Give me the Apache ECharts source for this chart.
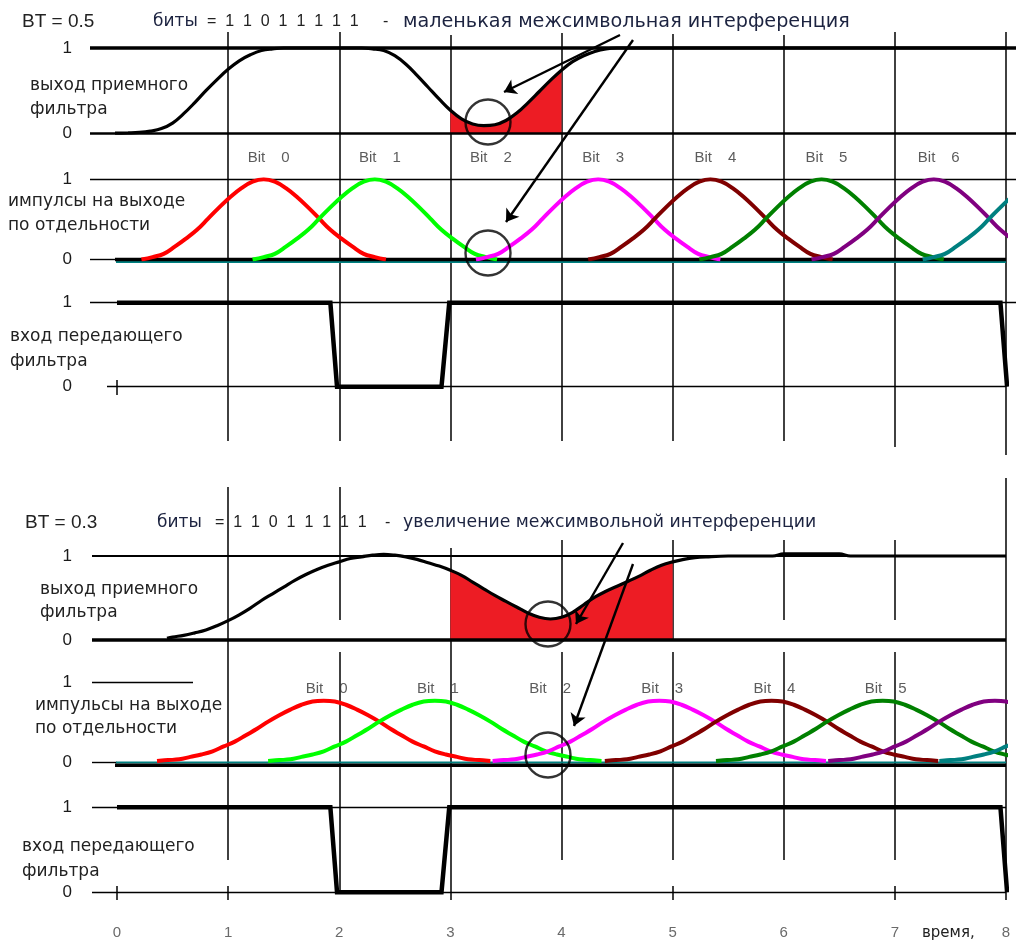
<!DOCTYPE html>
<html><head><meta charset="utf-8">
<script src="https://cdn.jsdelivr.net/npm/echarts@6/dist/echarts.min.js"></script>
<style>html,body{margin:0;padding:0;background:#fff}#c{width:1018px;height:941px}</style>
</head><body><div id="c"></div>
<script>
// ================= DATA =================
const bits = [1, 1, 0, 1, 1, 1, 1, 1];
const pulseColors = ['#ff0000', '#00ff00', '#000000', '#ff00ff', '#800000', '#008000', '#800080', '#008080'];
const xTickLabels = ['0', '1', '2', '3', '4', '5', '6', '7', '8'];
const bitLabels05 = ['0', '1', '2', '3', '4', '5', '6'];
const bitLabels03 = ['0', '1', '2', '3', '4', '5'];

// BT = 0.5 : receive filter output
const rxTime05 = [-0.09, 0.1, 0.2, 0.3, 0.4, 0.5, 0.6, 0.7, 0.8, 0.9, 1.0, 1.1, 1.2, 1.3, 1.4, 1.5, 1.8, 2.2, 2.3, 2.4, 2.5, 2.6, 2.7, 2.8, 2.9, 3.0, 3.1, 3.2, 3.3, 3.4, 3.5, 3.6, 3.7, 3.8, 3.9, 4.0, 4.1, 4.2, 4.3, 4.4, 4.5, 5.0, 6.0, 7.0, 8.0];
const rxValue05 = [0, 0.005, 0.01, 0.025, 0.055, 0.12, 0.23, 0.36, 0.5, 0.63, 0.75, 0.85, 0.92, 0.97, 0.99, 1.0, 1.0, 1.0, 0.99, 0.97, 0.91, 0.81, 0.68, 0.54, 0.4, 0.27, 0.17, 0.11, 0.09, 0.1, 0.15, 0.24, 0.36, 0.49, 0.62, 0.74, 0.84, 0.91, 0.96, 0.99, 1.0, 1.0, 1.0, 1.0, 1.0];
const fillRange05 = [3, 4];

// BT = 0.5 : single pulses
const pulseOffset05 = [-1.1, -1.0, -0.9, -0.8, -0.7, -0.6, -0.5, -0.4, -0.3, -0.2, -0.1, 0, 0.1, 0.2, 0.3, 0.4, 0.5, 0.6, 0.7, 0.8, 0.9, 1.0, 1.1];
const pulseShape05 = [0, 0.03, 0.07, 0.16, 0.26, 0.37, 0.51, 0.65, 0.78, 0.89, 0.97, 1.0, 0.97, 0.89, 0.78, 0.65, 0.51, 0.37, 0.26, 0.16, 0.07, 0.03, 0];
const pulseCenter05 = [1.32, 2.32, 3.32, 4.33, 5.34, 6.34, 7.35, 8.35];

// BT = 0.3 : receive filter output
const rxTime03 = [0.45, 0.5, 0.6, 0.7, 0.8, 0.9, 1.0, 1.1, 1.2, 1.3, 1.4, 1.5, 1.6, 1.7, 1.8, 1.9, 2.0, 2.1, 2.2, 2.3, 2.4, 2.5, 2.6, 2.7, 2.8, 2.9, 3.0, 3.1, 3.2, 3.3, 3.4, 3.5, 3.6, 3.7, 3.8, 3.9, 4.0, 4.1, 4.2, 4.3, 4.4, 4.5, 4.6, 4.7, 4.8, 4.9, 5.0, 5.1, 5.2, 5.3, 5.5, 5.9, 6.0, 6.5, 6.6, 7.0, 8.0];
const rxValue03 = [0.02, 0.035, 0.055, 0.085, 0.12, 0.17, 0.23, 0.3, 0.38, 0.47, 0.55, 0.63, 0.71, 0.78, 0.84, 0.89, 0.93, 0.97, 0.99, 1.01, 1.02, 1.01, 0.99, 0.96, 0.92, 0.88, 0.83, 0.77, 0.69, 0.61, 0.53, 0.46, 0.39, 0.32, 0.27, 0.25, 0.27, 0.33, 0.42, 0.51, 0.58, 0.64, 0.7, 0.76, 0.83, 0.89, 0.93, 0.96, 0.98, 0.99, 1.0, 1.0, 1.025, 1.025, 1.0, 1.0, 1.0];
const fillRange03 = [3, 5];

// BT = 0.3 : single pulses
const pulseOffset03 = [-1.5, -1.4, -1.3, -1.2, -1.1, -1.0, -0.9, -0.8, -0.7, -0.6, -0.5, -0.4, -0.3, -0.2, -0.1, 0, 0.1, 0.2, 0.3, 0.4, 0.5, 0.6, 0.7, 0.8, 0.9, 1.0, 1.1, 1.2, 1.3, 1.4, 1.5];
const pulseShape03 = [0.02, 0.03, 0.04, 0.07, 0.1, 0.14, 0.2, 0.26, 0.34, 0.42, 0.51, 0.59, 0.66, 0.72, 0.76, 0.77, 0.76, 0.72, 0.66, 0.59, 0.51, 0.42, 0.34, 0.26, 0.2, 0.14, 0.1, 0.07, 0.04, 0.03, 0.02];
const pulseCenter03 = [1.86, 2.86, 3.87, 4.88, 5.89, 6.89, 7.9, 8.9];

// transmit filter input (same bits in both panels)
const txTime = [0, 1.92, 1.98, 2.92, 2.99, 7.95, 8.01];
const txLevel = [1, 1, 0, 0, 1, 1, 0];

// ================= LAYOUT =================
const LEFT = 117, RIGHT = 12, UNIT = (1006 - 117) / 8;
const PX = px => (px - LEFT) / UNIT;               // page column -> time
const panels = [
  { y1: 48, y0: 133.3 },     // 0 receive BT .5
  { y1: 179.3, y0: 259.5 },  // 1 pulses  BT .5
  { y1: 302.7, y0: 386.7 },  // 2 tx      BT .5
  { y1: 556, y0: 640 },      // 3 receive BT .3
  { y1: 682.3, y0: 762.5 },  // 4 pulses  BT .3
  { y1: 807.3, y0: 892.3 }   // 5 tx      BT .3
];
const VAL = (g, py) => (panels[g].y0 - py) / (panels[g].y0 - panels[g].y1); // page row -> value in grid g

// vertical grid segments [time, rowTop, rowBottom]
const vSegs = [
  [1, 32, 441], [2, 32, 441], [3, 35, 441], [4, 33, 441], [5, 34, 441], [6, 35, 441], [7, 32, 447], [8, 32, 455], [0, 380, 395],
  [1, 487, 860], [2, 487, 620], [2, 652, 892], [3, 548, 900], [4, 540, 640], [4, 652, 860], [5, 540, 640], [5, 652, 860],
  [6, 540, 620], [6, 652, 860], [7, 540, 620], [7, 652, 860], [8, 478, 900], [0, 886, 900], [1, 886, 900], [5, 886, 900], [7, 886, 900]
];
// horizontal reference lines [grid, value, colStart, colEnd, width]
const hRefs = [
  [0, 1, 90, 1016, 3.5], [0, 0, 90, 1016, 2.5],
  [1, 1, 90, 1016, 1.4], [1, 0, 90, 117, 1.4],
  [2, 1, 90, 1016, 1.4], [2, 0, 107, 1006, 1.4],
  [3, 1, 92, 1006, 2], [3, 0, 92, 1006, 3.5],
  [4, 1, 92, 193, 1.4], [4, 0, 92, 117, 1.4],
  [5, 1, 92, 1006, 1.4], [5, 0, 92, 1006, 1.4]
];

// ================= OPTION =================
const grid = panels.map(p => ({ left: LEFT, right: RIGHT, top: p.y1, height: p.y0 - p.y1 }));
grid.push({ left: LEFT, right: RIGHT, top: 0, height: 941 });

const xAxis = panels.map((p, i) => ({
  gridIndex: i, type: 'value', min: 0, max: 8, interval: 1, show: i === 5,
  axisLine: { show: false }, axisTick: { show: false }, splitLine: { show: false },
  axisLabel: { show: i === 5, margin: 33, color: '#6a6a6a', fontSize: 15, fontFamily: 'Liberation Sans',
    formatter: v => xTickLabels[Math.round(v)] }
}));
xAxis.push({ gridIndex: 6, type: 'value', min: 0, max: 8, show: false });

const yAxis = panels.map((p, i) => ({
  gridIndex: i, type: 'value', min: 0, max: 1, interval: 1,
  axisLine: { show: false }, axisTick: { show: false }, splitLine: { show: false },
  axisLabel: { margin: 45, color: '#1a1a1a', fontSize: 17, fontFamily: 'Liberation Sans' }
}));
yAxis.push({ gridIndex: 6, type: 'value', min: 0, max: 941, inverse: true, show: false });

const series = [];
const ax = g => ({ xAxisIndex: g, yAxisIndex: g });

// vertical grid lines
series.push(Object.assign({
  type: 'lines', coordinateSystem: 'cartesian2d', silent: true, z: 1, clip: false,
  lineStyle: { color: '#111', width: 1.6, opacity: 1 },
  data: vSegs.map(s => ({ coords: [[s[0], s[1]], [s[0], s[2]]] }))
}, ax(6)));

// horizontal reference lines
hRefs.forEach(h => series.push(Object.assign({
  type: 'lines', coordinateSystem: 'cartesian2d', silent: true, z: 3, clip: false,
  lineStyle: { color: '#000', width: h[4], opacity: 1 },
  data: [{ coords: [[PX(h[2]), h[1]], [PX(h[3]), h[1]]] }]
}, ax(h[0]))));

// receive output, fill and curve
function rxSeries(g, t, v, range) {
  const pts = t.map((x, i) => [x, v[i]]);
  series.push(Object.assign({
    type: 'line', smooth: 0.4, symbol: 'none', clip: false, z: 2, silent: true,
    lineStyle: { width: 0 }, areaStyle: { color: '#ed1c24', opacity: 1, origin: 'start' },
    data: pts.filter(p => p[0] >= range[0] && p[0] <= range[1])
  }, ax(g)));
  series.push(Object.assign({
    type: 'line', smooth: 0.4, symbol: 'none', clip: false, z: 4, silent: true,
    lineStyle: { color: '#000', width: 3.2 }, data: pts
  }, ax(g)));
}
rxSeries(0, rxTime05, rxValue05, fillRange05);
rxSeries(3, rxTime03, rxValue03, fillRange03);

// pulse baselines
function baseline(g, tealVal, blackVal) {
  series.push(Object.assign({ type: 'line', symbol: 'none', clip: false, z: 3, silent: true,
    lineStyle: { color: '#008080', width: 2 }, data: [[-0.02, tealVal], [8, tealVal]] }, ax(g)));
  series.push(Object.assign({ type: 'line', symbol: 'none', clip: false, z: 3, silent: true,
    lineStyle: { color: '#000', width: 3.5 }, data: [[-0.02, blackVal], [8, blackVal]] }, ax(g)));
}
baseline(1, -0.03, 0);
baseline(4, 0, -0.035);

// individual pulses
function pulses(g, centers, offs, shape) {
  bits.forEach((b, k) => {
    if (!b) return;
    series.push(Object.assign({
      type: 'line', smooth: 0.4, symbol: 'none', clip: true, z: 4, silent: true,
      lineStyle: { color: pulseColors[k], width: 4 },
      data: offs.map((d, i) => [centers[k] + d, shape[i]])
    }, ax(g)));
  });
}
pulses(1, pulseCenter05, pulseOffset05, pulseShape05);
pulses(4, pulseCenter03, pulseOffset03, pulseShape03);

// transmit input
[2, 5].forEach(g => series.push(Object.assign({
  type: 'line', symbol: 'none', clip: false, z: 4, silent: true,
  lineStyle: { color: '#000', width: 4.5, join: 'miter' },
  data: txTime.map((t, i) => [t, txLevel[i]])
}, ax(g))));

// bit labels
function bitLabels(g, centers, labels, row, dx) {
  series.push(Object.assign({
    type: 'scatter', symbolSize: 1, itemStyle: { color: 'rgba(0,0,0,0)' }, clip: false, z: 5, silent: true,
    data: labels.map((l, k) => ({ value: [centers[k], VAL(g, row)], name: l })),
    label: { show: true, position: 'inside', offset: [dx, 0],
      formatter: p => '{a|Bit}{b|' + p.name + '}',
      rich: { a: { fontSize: 15, fontFamily: 'Liberation Sans', color: '#333' },
              b: { fontSize: 15, fontFamily: 'Liberation Sans', color: '#333', padding: [0, 0, 0, 16] } } }
  }, ax(g)));
}
bitLabels(1, pulseCenter05, bitLabels05, 157.5, 5);
bitLabels(4, pulseCenter03, bitLabels03, 689, 3);

// circles
const circles = [[0, 488, 122], [1, 488, 253], [3, 548, 624], [4, 548, 755]];
circles.forEach(c => series.push(Object.assign({
  type: 'scatter', symbol: 'circle', symbolSize: 45, clip: false, z: 6, silent: true,
  itemStyle: { color: 'rgba(0,0,0,0)', borderColor: '#000', borderWidth: 2.4 },
  data: [[PX(c[1]), VAL(c[0], c[2])]]
}, ax(c[0]))));

// arrows [grid, fromCol, fromRow, toCol, toRow]
const arrows = [[0, 620, 35, 504, 92], [0, 633, 40, 506, 222], [3, 623, 543, 576, 624], [3, 633, 564, 574, 726]];
arrows.forEach(a => series.push(Object.assign({
  type: 'lines', coordinateSystem: 'cartesian2d', clip: false, z: 6, silent: true,
  symbol: ['none', 'arrow'], symbolSize: 12,
  lineStyle: { color: '#000', width: 2.4, opacity: 1 },
  data: [{ coords: [[PX(a[1]), VAL(a[0], a[2])], [PX(a[3]), VAL(a[0], a[4])]] }]
}, ax(a[0]))));

// texts
const SANS = 'Liberation Sans', DV = 'DejaVu Sans';
function txt(text, x, y, size, fam, color) {
  return { type: 'text', left: x, top: y - size * 0.45, silent: true,
    style: { text: text, fontSize: size, fontFamily: fam, fill: color || '#222' } };
}
const graphic = [
  txt('BT = 0.5', 22, 21, 19, SANS), txt('биты', 153, 21, 17, DV, '#1c2340'),
  txt('=  1  1  0  1  1  1  1  1', 207, 21, 16, SANS), txt('-', 383, 21, 16, SANS),
  txt('маленькая межсимвольная интерференция', 403, 21, 19.2, DV, '#1c2340'),
  txt('BT = 0.3', 25, 522, 19, SANS), txt('биты', 157, 522, 17, DV, '#1c2340'),
  txt('=  1  1  0  1  1  1  1  1', 215, 522, 16, SANS), txt('-', 385, 522, 16, SANS),
  txt('увеличение межсимвольной интерференции', 403, 522, 17.3, DV, '#1c2340'),
  txt('выход приемного', 30, 85, 17, DV), txt('фильтра', 30, 109, 17, DV),
  txt('импулсы на выходе', 8, 201, 17, DV), txt('по отдельности', 8, 225, 17, DV),
  txt('вход передающего', 10, 336, 17, DV), txt('фильтра', 10, 361, 17, DV),
  txt('выход приемного', 40, 589, 17, DV), txt('фильтра', 40, 612, 17, DV),
  txt('импульсы на выходе', 35, 705, 17, DV), txt('по отдельности', 35, 728, 17, DV),
  txt('вход передающего', 22, 846, 17, DV), txt('фильтра', 22, 871, 17, DV),
  txt('время,', 922, 932, 15, DV)
];

const chart = echarts.init(document.getElementById('c'));
chart.setOption({ animation: false, backgroundColor: '#fff', grid, xAxis, yAxis, series, graphic });
</script></body></html>
